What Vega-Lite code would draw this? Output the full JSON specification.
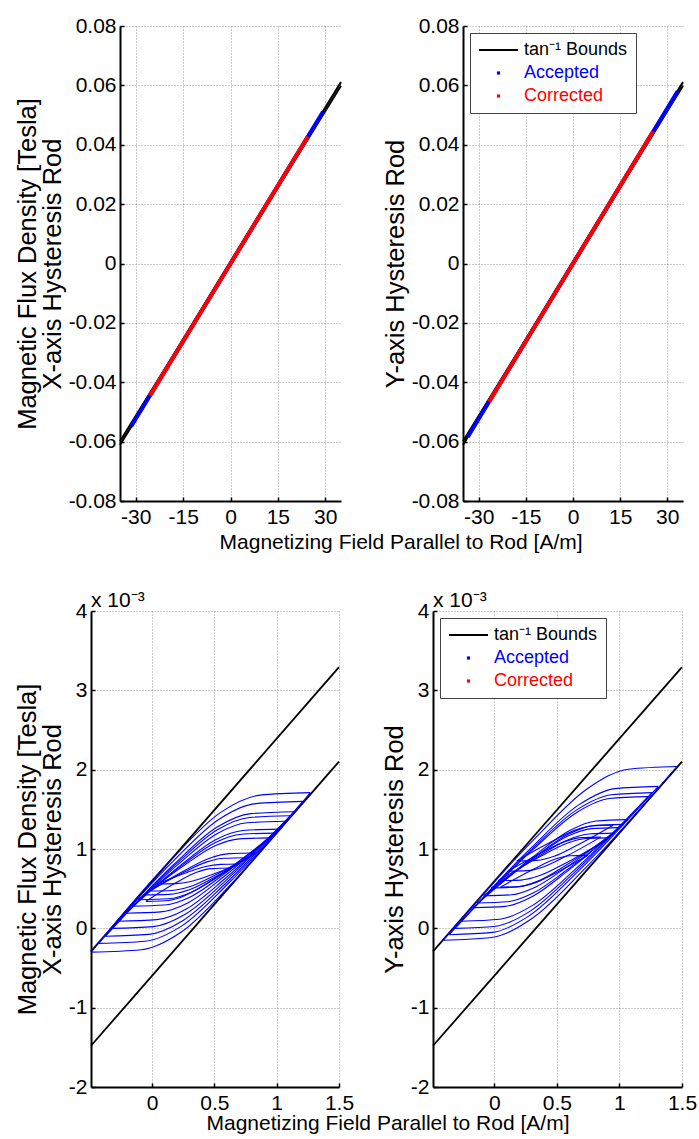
{
  "$schema": "https://vega.github.io/schema/vega-lite/v6.json",
  "padding": {"left": 14, "top": 15, "right": 0, "bottom": 0},
  "config": {
    "font": "Liberation Sans",
    "view": {"stroke": null},
    "axis": {
      "domainColor": "black", "domainWidth": 2,
      "labelFont": "Liberation Sans", "labelFontSize": 21, "labelColor": "black",
      "titleFont": "Liberation Sans", "titleFontSize": 25.5, "titleFontWeight": "normal", "titleColor": "black",
      "gridColor": "#999999", "gridDash": [1, 2], "gridWidth": 1,
      "tickColor": "black", "tickWidth": 1.5, "tickSize": -4,
      "labelFlush": false, "labelOverlap": false
    },
    "axisX": {"labelPadding": 9},
    "axisY": {"labelPadding": 8, "titlePadding": 3, "titleLineHeight": 25},
    "line": {"strokeCap": "butt"}
  },
  "datasets": {
    "bTop": [
      {"g": "u", "H": -35, "B": -0.0599}, {"g": "u", "H": -17.5, "B": -0.0298}, {"g": "u", "H": 0, "B": 0.0006}, {"g": "u", "H": 17.5, "B": 0.031}, {"g": "u", "H": 35, "B": 0.0611},
      {"g": "l", "H": -35, "B": -0.0611}, {"g": "l", "H": -17.5, "B": -0.031}, {"g": "l", "H": 0, "B": -0.0006}, {"g": "l", "H": 17.5, "B": 0.0298}, {"g": "l", "H": 35, "B": 0.0599}
    ],
    "accX": [{"H": -31.5, "B": -0.0549}, {"H": -15, "B": -0.0262}, {"H": 0, "B": 0}, {"H": 15, "B": 0.0262}, {"H": 29.3, "B": 0.0511}],
    "corX": [{"H": -25.5, "B": -0.0445}, {"H": 0, "B": 0}, {"H": 24.5, "B": 0.0428}],
    "accY": [{"H": -33.5, "B": -0.0584}, {"H": 0, "B": 0}, {"H": 33.3, "B": 0.058}],
    "corY": [{"H": -26.7, "B": -0.0466}, {"H": 0, "B": 0}, {"H": 25.5, "B": 0.0445}],
    "bBot": [
      {"g": "u", "H": -0.49, "B": -0.29}, {"g": "u", "H": 1.5, "B": 3.292},
      {"g": "l", "H": -0.49, "B": -1.48}, {"g": "l", "H": 1.5, "B": 2.102}
    ],
    "loopsX": [
      {"g": "1t", "H": -0.49, "B": -0.3}, {"g": "1t", "H": 0.151, "B": 0.862}, {"g": "1t", "H": 0.548, "B": 1.459}, {"g": "1t", "H": 0.866, "B": 1.679}, {"g": "1t", "H": 1.27, "B": 1.71},
      {"g": "1b", "H": -0.49, "B": -0.3}, {"g": "1b", "H": -0.086, "B": -0.269}, {"g": "1b", "H": 0.232, "B": -0.049}, {"g": "1b", "H": 0.629, "B": 0.548}, {"g": "1b", "H": 1.27, "B": 1.71},
      {"g": "2t", "H": -0.43, "B": -0.19}, {"g": "2t", "H": 0.168, "B": 0.845}, {"g": "2t", "H": 0.538, "B": 1.376}, {"g": "2t", "H": 0.834, "B": 1.572}, {"g": "2t", "H": 1.21, "B": 1.6},
      {"g": "2b", "H": -0.43, "B": -0.19}, {"g": "2b", "H": -0.054, "B": -0.162}, {"g": "2b", "H": 0.242, "B": 0.034}, {"g": "2b", "H": 0.612, "B": 0.565}, {"g": "2b", "H": 1.21, "B": 1.6},
      {"g": "3t", "H": -0.375, "B": -0.1}, {"g": "3t", "H": 0.177, "B": 0.808}, {"g": "3t", "H": 0.519, "B": 1.274}, {"g": "3t", "H": 0.792, "B": 1.446}, {"g": "3t", "H": 1.14, "B": 1.47},
      {"g": "3b", "H": -0.375, "B": -0.1}, {"g": "3b", "H": -0.027, "B": -0.076}, {"g": "3b", "H": 0.246, "B": 0.096}, {"g": "3b", "H": 0.588, "B": 0.562}, {"g": "3b", "H": 1.14, "B": 1.47},
      {"g": "4t", "H": -0.32, "B": 0.0}, {"g": "4t", "H": 0.201, "B": 0.821}, {"g": "4t", "H": 0.524, "B": 1.243}, {"g": "4t", "H": 0.782, "B": 1.398}, {"g": "4t", "H": 1.11, "B": 1.42},
      {"g": "4b", "H": -0.32, "B": 0.0}, {"g": "4b", "H": 0.008, "B": 0.022}, {"g": "4b", "H": 0.266, "B": 0.178}, {"g": "4b", "H": 0.589, "B": 0.599}, {"g": "4b", "H": 1.11, "B": 1.42},
      {"g": "5t", "H": -0.27, "B": 0.09}, {"g": "5t", "H": 0.218, "B": 0.818}, {"g": "5t", "H": 0.521, "B": 1.193}, {"g": "5t", "H": 0.763, "B": 1.33}, {"g": "5t", "H": 1.07, "B": 1.35},
      {"g": "5b", "H": -0.27, "B": 0.09}, {"g": "5b", "H": 0.037, "B": 0.11}, {"g": "5b", "H": 0.279, "B": 0.248}, {"g": "5b", "H": 0.582, "B": 0.622}, {"g": "5b", "H": 1.07, "B": 1.35},
      {"g": "6t", "H": -0.21, "B": 0.19}, {"g": "6t", "H": 0.235, "B": 0.803}, {"g": "6t", "H": 0.51, "B": 1.118}, {"g": "6t", "H": 0.73, "B": 1.233}, {"g": "6t", "H": 1.01, "B": 1.25},
      {"g": "6b", "H": -0.21, "B": 0.19}, {"g": "6b", "H": 0.07, "B": 0.207}, {"g": "6b", "H": 0.29, "B": 0.323}, {"g": "6b", "H": 0.565, "B": 0.637}, {"g": "6b", "H": 1.01, "B": 1.25},
      {"g": "7t", "H": -0.16, "B": 0.28}, {"g": "7t", "H": 0.255, "B": 0.812}, {"g": "7t", "H": 0.513, "B": 1.085}, {"g": "7t", "H": 0.718, "B": 1.186}, {"g": "7t", "H": 0.98, "B": 1.2},
      {"g": "7b", "H": -0.16, "B": 0.28}, {"g": "7b", "H": 0.102, "B": 0.294}, {"g": "7b", "H": 0.307, "B": 0.395}, {"g": "7b", "H": 0.565, "B": 0.668}, {"g": "7b", "H": 0.98, "B": 1.2},
      {"g": "8t", "H": -0.11, "B": 0.36}, {"g": "8t", "H": 0.273, "B": 0.811}, {"g": "8t", "H": 0.51, "B": 1.043}, {"g": "8t", "H": 0.699, "B": 1.128}, {"g": "8t", "H": 0.94, "B": 1.14},
      {"g": "8b", "H": -0.11, "B": 0.36}, {"g": "8b", "H": 0.131, "B": 0.372}, {"g": "8b", "H": 0.321, "B": 0.458}, {"g": "8b", "H": 0.557, "B": 0.689}, {"g": "8b", "H": 0.94, "B": 1.14},
      {"g": "9t", "H": -0.07, "B": 0.42}, {"g": "9t", "H": 0.258, "B": 0.726}, {"g": "9t", "H": 0.461, "B": 0.884}, {"g": "9t", "H": 0.624, "B": 0.942}, {"g": "9t", "H": 0.83, "B": 0.95},
      {"g": "9b", "H": -0.07, "B": 0.42}, {"g": "9b", "H": 0.137, "B": 0.428}, {"g": "9b", "H": 0.299, "B": 0.486}, {"g": "9b", "H": 0.502, "B": 0.644}, {"g": "9b", "H": 0.83, "B": 0.95},
      {"g": "10t", "H": -0.05, "B": 0.34}, {"g": "10t", "H": 0.201, "B": 0.583}, {"g": "10t", "H": 0.357, "B": 0.708}, {"g": "10t", "H": 0.482, "B": 0.753}, {"g": "10t", "H": 0.64, "B": 0.76},
      {"g": "10b", "H": -0.05, "B": 0.34}, {"g": "10b", "H": 0.108, "B": 0.347}, {"g": "10b", "H": 0.233, "B": 0.393}, {"g": "10b", "H": 0.389, "B": 0.517}, {"g": "10b", "H": 0.64, "B": 0.76},
      {"g": "11t", "H": -0.02, "B": 0.47}, {"g": "11t", "H": 0.264, "B": 0.713}, {"g": "11t", "H": 0.44, "B": 0.838}, {"g": "11t", "H": 0.581, "B": 0.883}, {"g": "11t", "H": 0.76, "B": 0.89},
      {"g": "11b", "H": -0.02, "B": 0.47}, {"g": "11b", "H": 0.159, "B": 0.477}, {"g": "11b", "H": 0.3, "B": 0.523}, {"g": "11b", "H": 0.476, "B": 0.647}, {"g": "11b", "H": 0.76, "B": 0.89},
      {"g": "12t", "H": 0.04, "B": 0.56}, {"g": "12t", "H": 0.281, "B": 0.705}, {"g": "12t", "H": 0.429, "B": 0.779}, {"g": "12t", "H": 0.549, "B": 0.806}, {"g": "12t", "H": 0.7, "B": 0.81},
      {"g": "12b", "H": 0.04, "B": 0.56}, {"g": "12b", "H": 0.191, "B": 0.564}, {"g": "12b", "H": 0.311, "B": 0.591}, {"g": "12b", "H": 0.46, "B": 0.665}, {"g": "12b", "H": 0.7, "B": 0.81}
    ],
    "loopsY": [
      {"g": "1t", "H": -0.41, "B": -0.15}, {"g": "1t", "H": 0.314, "B": 1.116}, {"g": "1t", "H": 0.749, "B": 1.766}, {"g": "1t", "H": 1.073, "B": 2.006}, {"g": "1t", "H": 1.46, "B": 2.04},
      {"g": "1b", "H": -0.41, "B": -0.15}, {"g": "1b", "H": -0.023, "B": -0.116}, {"g": "1b", "H": 0.301, "B": 0.124}, {"g": "1b", "H": 0.737, "B": 0.774}, {"g": "1b", "H": 1.46, "B": 2.04},
      {"g": "2t", "H": -0.36, "B": -0.08}, {"g": "2t", "H": 0.286, "B": 1.001}, {"g": "2t", "H": 0.675, "B": 1.556}, {"g": "2t", "H": 0.964, "B": 1.761}, {"g": "2t", "H": 1.31, "B": 1.79},
      {"g": "2b", "H": -0.36, "B": -0.08}, {"g": "2b", "H": -0.014, "B": -0.051}, {"g": "2b", "H": 0.275, "B": 0.154}, {"g": "2b", "H": 0.664, "B": 0.709}, {"g": "2b", "H": 1.31, "B": 1.79},
      {"g": "3t", "H": -0.315, "B": 0.0}, {"g": "3t", "H": 0.294, "B": 0.989}, {"g": "3t", "H": 0.662, "B": 1.496}, {"g": "3t", "H": 0.934, "B": 1.683}, {"g": "3t", "H": 1.26, "B": 1.71},
      {"g": "3b", "H": -0.315, "B": 0.0}, {"g": "3b", "H": 0.011, "B": 0.027}, {"g": "3b", "H": 0.284, "B": 0.214}, {"g": "3b", "H": 0.651, "B": 0.721}, {"g": "3b", "H": 1.26, "B": 1.71},
      {"g": "4t", "H": -0.265, "B": 0.09}, {"g": "4t", "H": 0.313, "B": 0.998}, {"g": "4t", "H": 0.662, "B": 1.464}, {"g": "4t", "H": 0.921, "B": 1.636}, {"g": "4t", "H": 1.23, "B": 1.66},
      {"g": "4b", "H": -0.265, "B": 0.09}, {"g": "4b", "H": 0.044, "B": 0.115}, {"g": "4b", "H": 0.303, "B": 0.286}, {"g": "4b", "H": 0.652, "B": 0.752}, {"g": "4b", "H": 1.23, "B": 1.66},
      {"g": "5t", "H": -0.17, "B": 0.26}, {"g": "5t", "H": 0.31, "B": 0.902}, {"g": "5t", "H": 0.599, "B": 1.231}, {"g": "5t", "H": 0.813, "B": 1.353}, {"g": "5t", "H": 1.07, "B": 1.37},
      {"g": "5b", "H": -0.17, "B": 0.26}, {"g": "5b", "H": 0.087, "B": 0.277}, {"g": "5b", "H": 0.301, "B": 0.399}, {"g": "5b", "H": 0.59, "B": 0.728}, {"g": "5b", "H": 1.07, "B": 1.37},
      {"g": "6t", "H": -0.135, "B": 0.32}, {"g": "6t", "H": 0.318, "B": 0.892}, {"g": "6t", "H": 0.59, "B": 1.186}, {"g": "6t", "H": 0.793, "B": 1.295}, {"g": "6t", "H": 1.035, "B": 1.31},
      {"g": "6b", "H": -0.135, "B": 0.32}, {"g": "6b", "H": 0.107, "B": 0.335}, {"g": "6b", "H": 0.31, "B": 0.444}, {"g": "6b", "H": 0.582, "B": 0.738}, {"g": "6b", "H": 1.035, "B": 1.31},
      {"g": "7t", "H": -0.085, "B": 0.41}, {"g": "7t", "H": 0.335, "B": 0.907}, {"g": "7t", "H": 0.588, "B": 1.163}, {"g": "7t", "H": 0.776, "B": 1.257}, {"g": "7t", "H": 1.0, "B": 1.27},
      {"g": "7b", "H": -0.085, "B": 0.41}, {"g": "7b", "H": 0.14, "B": 0.423}, {"g": "7b", "H": 0.327, "B": 0.518}, {"g": "7b", "H": 0.58, "B": 0.773}, {"g": "7b", "H": 1.0, "B": 1.27},
      {"g": "8t", "H": -0.025, "B": 0.51}, {"g": "8t", "H": 0.356, "B": 0.909}, {"g": "8t", "H": 0.586, "B": 1.114}, {"g": "8t", "H": 0.756, "B": 1.189}, {"g": "8t", "H": 0.96, "B": 1.2},
      {"g": "8b", "H": -0.025, "B": 0.51}, {"g": "8b", "H": 0.179, "B": 0.521}, {"g": "8b", "H": 0.349, "B": 0.596}, {"g": "8b", "H": 0.579, "B": 0.801}, {"g": "8b", "H": 0.96, "B": 1.2},
      {"g": "9t", "H": 0.03, "B": 0.6}, {"g": "9t", "H": 0.374, "B": 0.912}, {"g": "9t", "H": 0.582, "B": 1.073}, {"g": "9t", "H": 0.736, "B": 1.132}, {"g": "9t", "H": 0.92, "B": 1.14},
      {"g": "9b", "H": 0.03, "B": 0.6}, {"g": "9b", "H": 0.214, "B": 0.608}, {"g": "9b", "H": 0.368, "B": 0.668}, {"g": "9b", "H": 0.576, "B": 0.828}, {"g": "9b", "H": 0.92, "B": 1.14},
      {"g": "10t", "H": 0.11, "B": 0.72}, {"g": "10t", "H": 0.396, "B": 0.969}, {"g": "10t", "H": 0.569, "B": 1.096}, {"g": "10t", "H": 0.697, "B": 1.143}, {"g": "10t", "H": 0.85, "B": 1.15},
      {"g": "10b", "H": 0.11, "B": 0.72}, {"g": "10b", "H": 0.263, "B": 0.727}, {"g": "10b", "H": 0.391, "B": 0.774}, {"g": "10b", "H": 0.564, "B": 0.901}, {"g": "10b", "H": 0.85, "B": 1.15},
      {"g": "11t", "H": 0.18, "B": 0.85}, {"g": "11t", "H": 0.478, "B": 1.11}, {"g": "11t", "H": 0.657, "B": 1.244}, {"g": "11t", "H": 0.791, "B": 1.293}, {"g": "11t", "H": 0.95, "B": 1.3},
      {"g": "11b", "H": 0.18, "B": 0.85}, {"g": "11b", "H": 0.339, "B": 0.857}, {"g": "11b", "H": 0.473, "B": 0.906}, {"g": "11b", "H": 0.652, "B": 1.04}, {"g": "11b", "H": 0.95, "B": 1.3},
      {"g": "12t", "H": 0.05, "B": 0.52}, {"g": "12t", "H": 0.321, "B": 0.751}, {"g": "12t", "H": 0.484, "B": 0.87}, {"g": "12t", "H": 0.605, "B": 0.914}, {"g": "12t", "H": 0.75, "B": 0.92},
      {"g": "12b", "H": 0.05, "B": 0.52}, {"g": "12b", "H": 0.195, "B": 0.526}, {"g": "12b", "H": 0.316, "B": 0.57}, {"g": "12b", "H": 0.479, "B": 0.689}, {"g": "12b", "H": 0.75, "B": 0.92}
    ]
  },
  "resolve": {"scale": {"color": "independent"}, "legend": {"color": "independent"}},
  "spacing": 37,
  "vconcat": [
    {
      "resolve": {"scale": {"color": "independent"}, "legend": {"color": "independent"}},
      "spacing": 0,
      "hconcat": [
        {"width": 1, "height": 1, "data": {"values": []}, "mark": "point"},
        {
          "resolve": {"scale": {"color": "independent"}, "legend": {"color": "independent"}},
          "spacing": 38,
          "title": {"text": "Magnetizing Field Parallel to Rod [A/m]", "orient": "bottom", "anchor": "middle", "fontSize": 21, "fontWeight": "normal", "font": "Liberation Sans", "color": "black", "offset": 5, "dx": 50},
          "hconcat": [
            {
              "width": 221, "height": 475,
              "encoding": {
                "x": {"field": "H", "type": "quantitative", "scale": {"domain": [-35, 35], "nice": false, "zero": false}, "axis": {"values": [-30, -15, 0, 15, 30], "title": null, "labelExpr": "(datum.value < 0 ? '-' : '') + format(abs(datum.value), 'd')"}},
                "y": {"field": "B", "type": "quantitative", "scale": {"domain": [-0.08, 0.08], "nice": false, "zero": false}, "axis": {"values": [-0.08, -0.06, -0.04, -0.02, 0, 0.02, 0.04, 0.06, 0.08], "title": ["Magnetic Flux Density [Tesla]", "X-axis Hysteresis Rod"], "labelExpr": "datum.value == 0 ? '0' : (datum.value < 0 ? '-' : '') + format(abs(datum.value), '.2f')"}}
              },
              "layer": [
                {"data": {"name": "bTop"}, "mark": {"type": "line", "strokeWidth": 2}, "encoding": {"detail": {"field": "g"}, "color": {"datum": "tan⁻¹ Bounds", "type": "nominal", "scale": {"domain": ["tan⁻¹ Bounds", "Accepted", "Corrected"], "range": ["#000000", "#0000ff", "#ff0000"]}, "legend": null}}},
                {"data": {"name": "accX"}, "mark": {"type": "line", "strokeWidth": 4}, "encoding": {"color": {"datum": "Accepted", "type": "nominal", "legend": null}}},
                {"data": {"name": "corX"}, "mark": {"type": "line", "strokeWidth": 4}, "encoding": {"color": {"datum": "Corrected", "type": "nominal", "legend": null}}}
              ]
            },
            {
              "width": 220, "height": 475,
              "encoding": {
                "x": {"field": "H", "type": "quantitative", "scale": {"domain": [-35, 35], "nice": false, "zero": false}, "axis": {"values": [-30, -15, 0, 15, 30], "title": null, "labelExpr": "(datum.value < 0 ? '-' : '') + format(abs(datum.value), 'd')"}},
                "y": {"field": "B", "type": "quantitative", "scale": {"domain": [-0.08, 0.08], "nice": false, "zero": false}, "axis": {"values": [-0.08, -0.06, -0.04, -0.02, 0, 0.02, 0.04, 0.06, 0.08], "title": "Y-axis Hysteresis Rod", "labelExpr": "datum.value == 0 ? '0' : (datum.value < 0 ? '-' : '') + format(abs(datum.value), '.2f')"}}
              },
              "layer": [
                {"data": {"name": "bTop"}, "mark": {"type": "line", "strokeWidth": 2}, "encoding": {"detail": {"field": "g"}, "color": {"datum": "tan⁻¹ Bounds", "type": "nominal", "scale": {"domain": ["tan⁻¹ Bounds", "Accepted", "Corrected"], "range": ["#000000", "#0000ff", "#ff0000"]},
                  "legend": {"title": null, "orient": "top-left", "offset": 7, "padding": 8, "strokeColor": "#444444", "fillColor": "white", "labelFontSize": 18, "labelFont": "Liberation Sans", "symbolType": "stroke", "symbolSize": 1521, "symbolStrokeWidth": 2, "clipHeight": 18, "rowPadding": 5, "labelOffset": 5,
                    "encode": {
                      "symbols": {"update": {"shape": [{"test": "datum.index > 0", "value": "M-0.03,-0.03L0.03,-0.03L0.03,0.03L-0.03,0.03Z"}, {"value": "stroke"}], "strokeWidth": {"value": 2}}},
                      "labels": {"update": {"fill": [{"test": "datum.index == 1", "value": "#0000ff"}, {"test": "datum.index == 2", "value": "#ff0000"}, {"value": "#000000"}]}}
                    }}}}},
                {"data": {"name": "accY"}, "mark": {"type": "line", "strokeWidth": 4}, "encoding": {"color": {"datum": "Accepted", "type": "nominal"}}},
                {"data": {"name": "corY"}, "mark": {"type": "line", "strokeWidth": 4}, "encoding": {"color": {"datum": "Corrected", "type": "nominal"}}}
              ]
            }
          ]
        }
      ]
    },
    {
      "resolve": {"scale": {"color": "independent"}, "legend": {"color": "independent"}},
      "spacing": 0,
      "hconcat": [
        {"width": 1, "height": 1, "data": {"values": []}, "mark": "point"},
        {
          "resolve": {"scale": {"color": "independent"}, "legend": {"color": "independent"}},
          "spacing": 28,
          "title": {"text": "Magnetizing Field Parallel to Rod [A/m]", "orient": "bottom", "anchor": "middle", "fontSize": 21, "fontWeight": "normal", "font": "Liberation Sans", "color": "black", "offset": 0, "dx": 32},
          "hconcat": [
            {
              "width": 248, "height": 476,
              "title": {"text": "x 10⁻³", "anchor": "start", "frame": "group", "fontSize": 21, "fontWeight": "normal", "font": "Liberation Sans", "color": "black", "offset": -11},
              "encoding": {
                "x": {"field": "H", "type": "quantitative", "scale": {"domain": [-0.49, 1.5], "nice": false, "zero": false}, "axis": {"values": [0, 0.5, 1, 1.5], "title": null, "labelExpr": "'' + datum.value"}},
                "y": {"field": "B", "type": "quantitative", "scale": {"domain": [-2, 4], "nice": false, "zero": false}, "axis": {"values": [-2, -1, 0, 1, 2, 3, 4], "title": ["Magnetic Flux Density [Tesla]", "X-axis Hysteresis Rod"], "labelExpr": "(datum.value < 0 ? '-' : '') + format(abs(datum.value), 'd')"}}
              },
              "layer": [
                {"data": {"name": "bBot"}, "mark": {"type": "line", "strokeWidth": 1.8}, "encoding": {"detail": {"field": "g"}, "color": {"datum": "tan⁻¹ Bounds", "type": "nominal", "scale": {"domain": ["tan⁻¹ Bounds", "Accepted", "Corrected"], "range": ["#000000", "#0000ff", "#ff0000"]}, "legend": null}}},
                {"data": {"name": "loopsX"}, "mark": {"type": "line", "strokeWidth": 1.1, "interpolate": "monotone"}, "encoding": {"detail": {"field": "g"}, "color": {"datum": "Accepted", "type": "nominal", "legend": null}}}
              ]
            },
            {
              "width": 249, "height": 476,
              "title": {"text": "x 10⁻³", "anchor": "start", "frame": "group", "fontSize": 21, "fontWeight": "normal", "font": "Liberation Sans", "color": "black", "offset": -11},
              "encoding": {
                "x": {"field": "H", "type": "quantitative", "scale": {"domain": [-0.49, 1.5], "nice": false, "zero": false}, "axis": {"values": [0, 0.5, 1, 1.5], "title": null, "labelExpr": "'' + datum.value"}},
                "y": {"field": "B", "type": "quantitative", "scale": {"domain": [-2, 4], "nice": false, "zero": false}, "axis": {"values": [-2, -1, 0, 1, 2, 3, 4], "title": "Y-axis Hysteresis Rod", "labelExpr": "(datum.value < 0 ? '-' : '') + format(abs(datum.value), 'd')"}}
              },
              "layer": [
                {"data": {"name": "bBot"}, "mark": {"type": "line", "strokeWidth": 1.8}, "encoding": {"detail": {"field": "g"}, "color": {"datum": "tan⁻¹ Bounds", "type": "nominal", "scale": {"domain": ["tan⁻¹ Bounds", "Accepted", "Corrected"], "range": ["#000000", "#0000ff", "#ff0000"]},
                  "legend": {"title": null, "orient": "top-left", "offset": 7, "padding": 8, "strokeColor": "#444444", "fillColor": "white", "labelFontSize": 18, "labelFont": "Liberation Sans", "symbolType": "stroke", "symbolSize": 1521, "symbolStrokeWidth": 2, "clipHeight": 18, "rowPadding": 5, "labelOffset": 5,
                    "encode": {
                      "symbols": {"update": {"shape": [{"test": "datum.index > 0", "value": "M-0.03,-0.03L0.03,-0.03L0.03,0.03L-0.03,0.03Z"}, {"value": "stroke"}], "strokeWidth": {"value": 2}}},
                      "labels": {"update": {"fill": [{"test": "datum.index == 1", "value": "#0000ff"}, {"test": "datum.index == 2", "value": "#ff0000"}, {"value": "#000000"}]}}
                    }}}}},
                {"data": {"name": "loopsY"}, "mark": {"type": "line", "strokeWidth": 1.1, "interpolate": "monotone"}, "encoding": {"detail": {"field": "g"}, "color": {"datum": "Accepted", "type": "nominal"}}}
              ]
            }
          ]
        }
      ]
    }
  ]
}
